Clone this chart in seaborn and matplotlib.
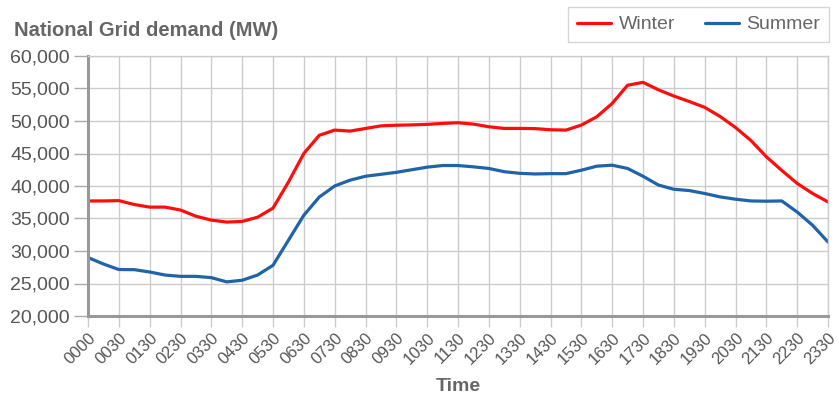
import numpy as np
import pandas as pd
import matplotlib
matplotlib.use('Agg')
import matplotlib.pyplot as plt
import seaborn as sns

# x axis labels (25 evenly spaced marks)
horarios = ['0000', '0030', '0130', '0230', '0330', '0430', '0530', '0630',
            '0730', '0830', '0930', '1030', '1130', '1230', '1330', '1430',
            '1530', '1630', '1730', '1830', '1930', '2030', '2130', '2230',
            '2330']

# readings taken at every mark and half way between marks
posicoes = [0, 0.5, 1, 1.5, 2, 2.5, 3, 3.5, 4, 4.5, 5, 5.5, 6, 6.5, 7, 7.5,
            8, 8.5, 9, 9.5, 10, 10.5, 11, 11.5, 12, 12.5, 13, 13.5, 14, 14.5,
            15, 15.5, 16, 16.5, 17, 17.5, 18, 18.5, 19, 19.5, 20, 20.5, 21,
            21.5, 22, 22.5, 23, 23.5, 24]

inverno = [37700, 37700, 37750, 37150, 36750, 36750, 36300, 35350, 34750,
           34450, 34550, 35200, 36600, 40600, 45000, 47800, 48600, 48450,
           48850, 49250, 49350, 49400, 49480, 49630, 49730, 49520, 49110,
           48860, 48860, 48830, 48650, 48600, 49370, 50650, 52700, 55500,
           55950, 54800, 53840, 53000, 52100, 50700, 49000, 47000, 44500,
           42400, 40400, 38850, 37550]

verao = [29000, 28000, 27150, 27130, 26770, 26300, 26100, 26100, 25900,
         25250, 25500, 26300, 27800, 31650, 35500, 38300, 40000, 40900,
         41500, 41800, 42100, 42500, 42900, 43150, 43150, 42950, 42700,
         42200, 41950, 41850, 41900, 41900, 42430, 43050, 43200, 42700,
         41500, 40150, 39500, 39300, 38850, 38320, 37970, 37700, 37660,
         37700, 36000, 33960, 31390]

df = pd.DataFrame({
    'pos': posicoes + posicoes,
    'MW': inverno + verao,
    'season': ['Winter'] * len(inverno) + ['Summer'] * len(verao),
})

sns.set_style('white')
plt.rcParams['font.family'] = ['Liberation Sans', 'DejaVu Sans']

fig, ax = plt.subplots(figsize=(8.38, 3.94), dpi=100)
fig.subplots_adjust(left=88/838, right=828/838, top=1-56/394, bottom=1-316/394)

sns.lineplot(data=df, x='pos', y='MW', hue='season',
             palette={'Winter': '#ff0d0d', 'Summer': '#1f63a8'},
             linewidth=2.3, ax=ax)

for linha in ax.get_lines():
    linha.set_solid_capstyle('round')
    linha.set_solid_joinstyle('round')

handles, labels = ax.get_legend_handles_labels()
ax.get_legend().remove()
fig.legend(handles, labels, loc='upper right',
           bbox_to_anchor=(829/838, 1-7/394), ncol=2, fontsize=14,
           frameon=True, fancybox=False, edgecolor='#cccccc',
           handlelength=1.75, handletextpad=0.4, columnspacing=1.5,
           borderpad=0.45, borderaxespad=0, labelcolor='#666666')

ax.set_xlim(0, 24)
ax.set_ylim(20000, 60000)
ax.set_xticks(range(len(horarios)))
ax.set_xticklabels(horarios, rotation=45, ha='right', rotation_mode='anchor')
ax.set_yticks(np.arange(20000, 60001, 5000))
ax.set_yticklabels([f'{v:,}' for v in range(20000, 60001, 5000)])

ax.grid(True, color='#cccccc', linewidth=1)
ax.set_axisbelow(True)
for lado in ['top', 'right']:
    ax.spines[lado].set_color('#cccccc')
    ax.spines[lado].set_linewidth(1)
for lado in ['left', 'bottom']:
    ax.spines[lado].set_color('#999999')
    ax.spines[lado].set_linewidth(2.2)

ax.tick_params(axis='y', length=10, width=1, color='#aaaaaa', pad=3,
               labelsize=14, labelcolor='#555555', left=True)
ax.tick_params(axis='x', length=8, width=1, color='#cccccc', pad=2,
               labelsize=12, labelcolor='#555555', bottom=True)

ax.set_xlabel('Time', fontsize=14, fontweight='bold', color='#666666', labelpad=8)
ax.set_ylabel('')

fig.text(14/838, 1-31/394, 'National Grid demand (MW)', fontsize=14.5,
         fontweight='bold', color='#666666', va='center', ha='left')

plt.savefig('out.png', dpi=100)
